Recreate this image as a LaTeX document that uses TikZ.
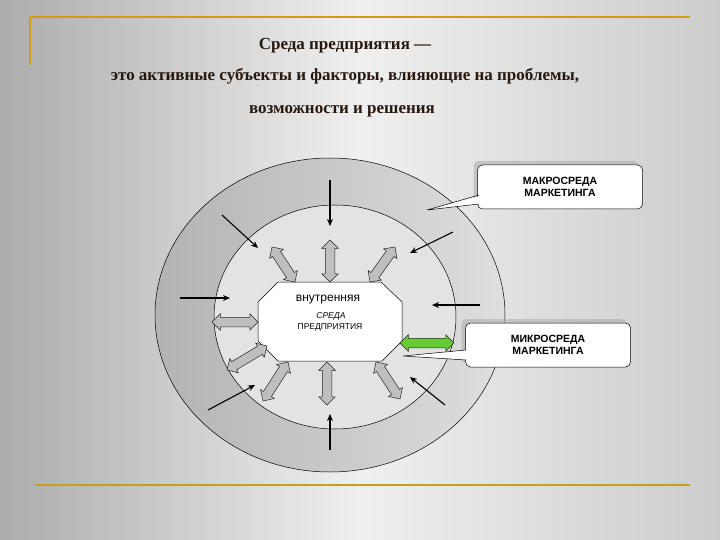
\documentclass[tikz,border=0pt]{standalone}
\usepackage{fontspec}
\setmainfont{Liberation Serif}
\setsansfont{Liberation Sans}
\usetikzlibrary{shapes.arrows,calc,shadows,arrows.meta}
\definecolor{gold}{RGB}{200,160,20}
\definecolor{titlec}{RGB}{40,25,15}
\newcommand\dblarr[3]{\path let \p1=($(#3)-(#2)$), \n1={atan2(\y1,\x1)}, \n2={veclen(\x1,\y1)} in node[dblar, fill=#1, minimum height=\n2, rotate=\n1] at ($(#2)!0.5!(#3)$) {};}
\begin{document}
\begin{tikzpicture}[x=1pt,y=-1pt,
  dblar/.style={double arrow, draw=gray!30!black, line width=0.5pt, double arrow head extend=3.5pt, double arrow head indent=0pt, inner xsep=0pt, inner ysep=4.5pt, text width=0pt},
  blk/.style={-{Stealth[length=7pt,width=6pt]}, line width=1.1pt},
  callout/.style={draw=black, line width=0.5pt, fill=white, rounded corners=5pt, font=\sffamily\bfseries\fontsize{10.5}{12.5}\selectfont, align=center, minimum width=165pt, minimum height=44pt, drop shadow={shadow xshift=-4pt, shadow yshift=4pt, fill=gray!70}},
  gl/.style={draw=gold, line width=1.2pt}]
\useasboundingbox (0,0) rectangle (720,540);
\shade[left color=gray!65, right color=gray!40, middle color=gray!12] (0,0) rectangle (720,540);
\draw[gl] (30,17) -- (690,17);
\draw[gl] (30,17) -- (30,65);
\draw[gl] (35,485) -- (690,485);
\node[font=\bfseries\fontsize{17}{19}\selectfont, text=titlec] (t1) at (345,46) {Среда предприятия —};
\node[font=\bfseries\fontsize{17}{19}\selectfont, text=titlec] (t2) at (345,76) {это активные субъекты и факторы, влияющие на проблемы,};
\node[font=\bfseries\fontsize{17}{19}\selectfont, text=titlec] (t3) at (342,111) {возможности и решения};
% rings
\shade[left color=gray!60, right color=gray!25, draw=black, line width=0.5pt] (330,315) ellipse [x radius=175, y radius=157];
\draw[fill=gray!22, line width=0.5pt] (335,317) ellipse [x radius=121, y radius=112];
% callouts
\node[callout] (macro) at (560,187) {МАКРОСРЕДА\\МАРКЕТИНГА};
\fill[white] (480,196) -- (427,210) -- (480,204) -- cycle;
\draw[line width=0.5pt] (479,195) -- (427,210) -- (479,204);
\node[callout] (micro) at (548,345) {МИКРОСРЕДА\\МАРКЕТИНГА};
\fill[white] (467,350) -- (403,356) -- (467,360) -- cycle;
\draw[line width=0.5pt] (466,350) -- (403,356) -- (466,360);
% octagon
\draw[fill=white, line width=0.5pt] (258,302) -- (278,282) -- (381,282) -- (402,302) -- (402,341) -- (382,361) -- (278,361) -- (258,341) -- cycle;
\node[font=\sffamily\fontsize{12}{14}\selectfont] (c1) at (328,300) {внутренняя};
\node[font=\sffamily\itshape\fontsize{8.5}{9}\selectfont] (c2) at (331,316) {СРЕДА};
\node[font=\sffamily\fontsize{8.5}{9}\selectfont] (c3) at (330,327) {ПРЕДПРИЯТИЯ};
% black arrows
\foreach \a/\b/\c/\d in {330/180/330/226, 222/215/258/248, 453/232/410/253, 180/298/230/298, 480/305/432/305, 208/410/255/385, 445/405/410/377, 330/450/330/414}
  \draw[blk] (\a,\b) coordinate (s) -- (\c,\d) coordinate (e);
% double arrows
\coordinate (a1) at (330,240); \coordinate (b1) at (330,282); \dblarr{gray!50}{a1}{b1}
\coordinate (a2) at (272,247); \coordinate (b2) at (295,282); \dblarr{gray!50}{a2}{b2}
\coordinate (a3) at (395,247); \coordinate (b3) at (370,282); \dblarr{gray!50}{a3}{b3}
\coordinate (a4) at (212,322); \coordinate (b4) at (258,322); \dblarr{gray!50}{a4}{b4}
\coordinate (a5) at (400,343); \coordinate (b5) at (454,343); \dblarr{green!50!olive!80!white}{a5}{b5}
\coordinate (a6) at (227,370); \coordinate (b6) at (267,346); \dblarr{gray!50}{a6}{b6}
\coordinate (a7) at (263,401); \coordinate (b7) at (288,362); \dblarr{gray!50}{a7}{b7}
\coordinate (a8) at (327,362); \coordinate (b8) at (327,405); \dblarr{gray!50}{a8}{b8}
\coordinate (a9) at (376,362); \coordinate (b9) at (400,399); \dblarr{gray!50}{a9}{b9}
\end{tikzpicture}
\end{document}
